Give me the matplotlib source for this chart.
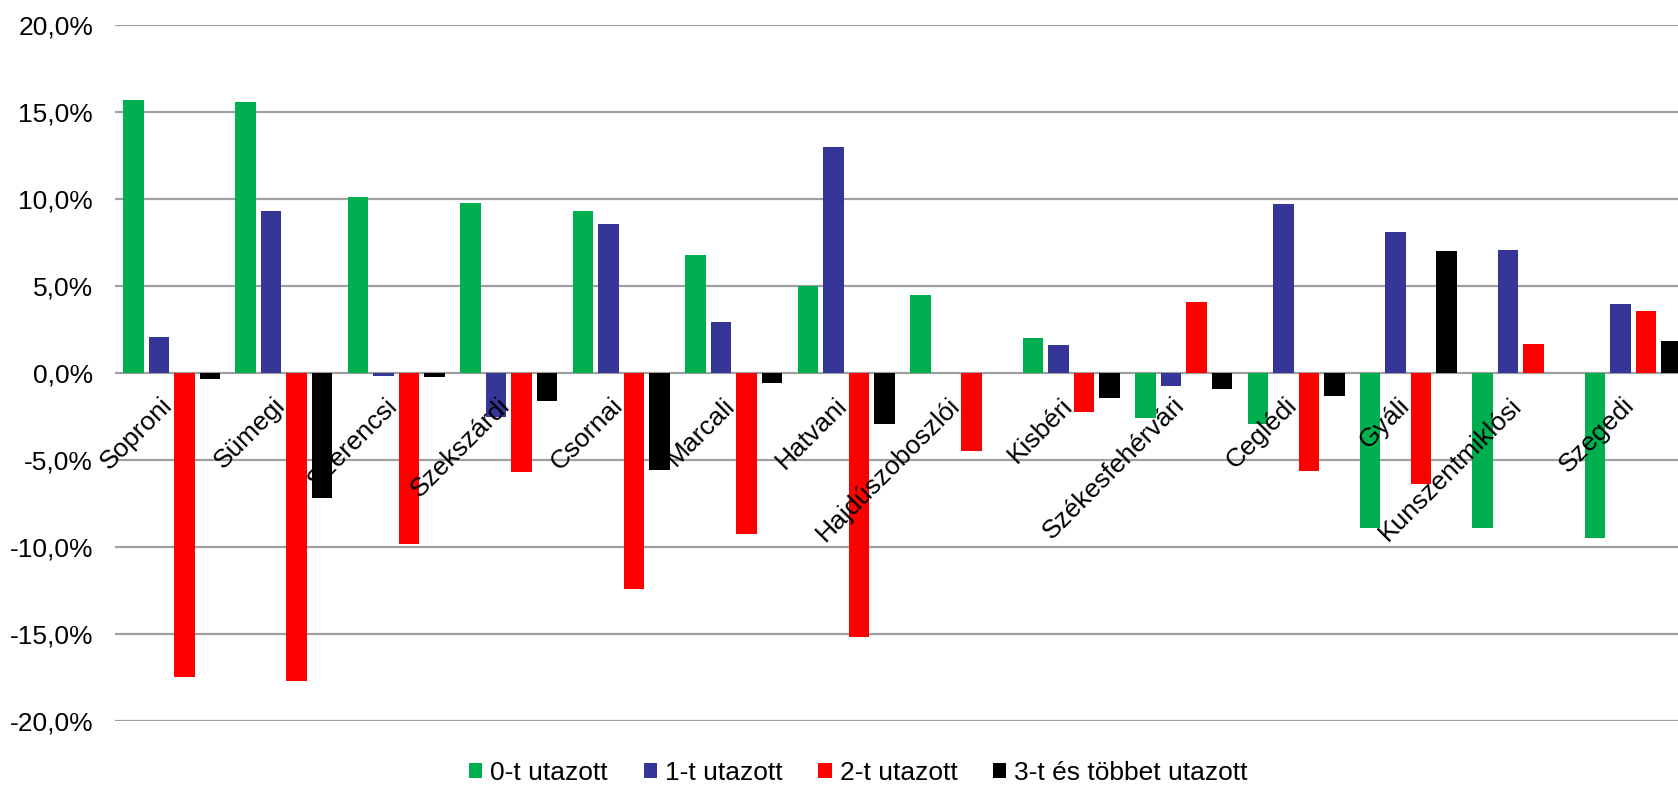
import matplotlib
matplotlib.use("Agg")
import matplotlib.pyplot as plt
from matplotlib.patches import Patch
from matplotlib.transforms import offset_copy
import numpy as np

plt.rcParams['font.family'] = ['Liberation Sans', 'DejaVu Sans']

categories = ["Soproni", "Sümegi", "Szerencsi", "Szekszárdi", "Csornai", "Marcali",
              "Hatvani", "Hajdúszoboszlói", "Kisbéri", "Székesfehérvári", "Ceglédi",
              "Gyáli", "Kunszentmiklósi", "Szegedi"]
series_names = ["0-t utazott", "1-t utazott", "2-t utazott", "3-t és többet utazott"]

s0 = [15.7, 15.6, 10.1, 9.8, 9.3, 6.8, 5.0, 4.5, 2.0, -2.6, -2.9, -8.9, -8.9, -9.5]
s1 = [2.05, 9.3, -0.15, -2.5, 8.6, 2.95, 13.0, 0.0, 1.6, -0.75, 9.7, 8.1, 7.1, 4.0]
s2 = [-17.45, -17.7, -9.8, -5.7, -12.4, -9.25, -15.15, -4.45, -2.25, 4.1, -5.6, -6.35, 1.7, 3.55]
s3 = [-0.35, -7.2, -0.25, -1.6, -5.55, -0.55, -2.9, 0.0, -1.45, -0.9, -1.3, 7.05, 0.0, 1.85]

colors = ["#00B050", "#363699", "#FF0000", "#000000"]

yticks = [-20, -15, -10, -5, 0, 5, 10, 15, 20]
ytick_labels = [f"{v:.1f}%".replace('.', ',') for v in yticks]

W, H = 1678, 786
fig = plt.figure(figsize=(W / 100, H / 100), dpi=100)
left_px, right_px = 115.3, 1689.6
top_px, bot_px = 25.3, 721.0
ax = fig.add_axes([left_px / W, 1 - bot_px / H, (right_px - left_px) / W, (bot_px - top_px) / H])

x = np.arange(len(categories))
pitch = 0.2268
bw = 0.182
for k, (vals, c) in enumerate(zip([s0, s1, s2, s3], colors)):
    ax.bar(x + (k - 1.5) * pitch, vals, width=bw, color=c, zorder=3, linewidth=0)

ax.set_xlim(-0.5, len(categories) - 0.5)
ax.set_ylim(-20, 20)
ax.set_yticks(yticks)
ax.set_yticklabels(ytick_labels, fontsize=19)
ax.set_xticks([])
ax.tick_params(axis='y', length=0, pad=16)
for s in ax.spines.values():
    s.set_visible(False)
for v in yticks:
    ax.axhline(v, color="#A0A0A0", lw=1.6, zorder=1)

tr = offset_copy(ax.transData, fig=fig, x=-11, y=-20, units='dots')
for i, name in enumerate(categories):
    ax.text(i, 0, name, transform=tr, rotation=45, rotation_mode='anchor',
            ha='right', va='top', fontsize=19, zorder=5)

handles = [Patch(facecolor=c, edgecolor='none') for c in colors]
fig.legend(handles, series_names, loc='center',
           bbox_to_anchor=(858.5 / W, 1 - 773 / H), bbox_transform=fig.transFigure,
           ncol=4, frameon=False, handlelength=0.5, handleheight=0.5,
           handletextpad=0.3, columnspacing=1.36, fontsize=19)

fig.savefig("out.png", dpi=100)
